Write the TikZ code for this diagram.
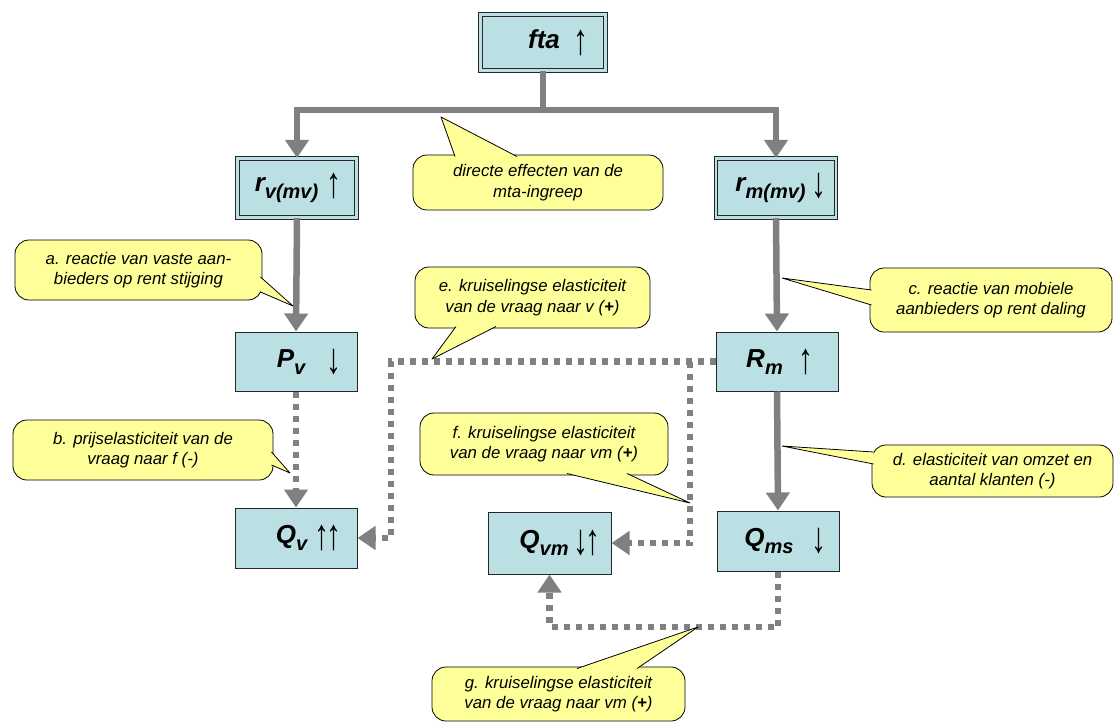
\documentclass[tikz,border=0pt]{standalone}
\usepackage{fontspec}
\setmainfont{Liberation Sans}
\usetikzlibrary{arrows.meta,calc}
\definecolor{boxfill}{HTML}{BBE0E3}
\definecolor{calfill}{HTML}{FFFF99}
\definecolor{linegray}{HTML}{808080}
\newcommand\lsub[1]{\raisebox{-7pt}{\fontsize{20}{20}\selectfont #1}}
\newcommand\upar{\raisebox{-6pt}{\scalebox{1.25}[1.8]{\fontsize{24}{24}\selectfont\mdseries\upshape ↑}}}
\newcommand\dnar{\raisebox{-6pt}{\scalebox{1.25}[1.8]{\fontsize{24}{24}\selectfont\mdseries\upshape ↓}}}
\begin{document}
\begin{tikzpicture}[x=1pt,y=-1pt,
  box/.style={draw=black!85, line width=1pt, fill=boxfill, inner sep=0pt,
    font=\fontsize{26}{26}\selectfont\bfseries\itshape},
  dbox/.style={box, double=boxfill, double distance=2.5pt, line width=1.2pt},
  callbox/.style={draw=black, line width=0.8pt, fill=calfill, rounded corners=14pt,
    inner sep=0pt, align=center, font=\fontsize{16.8}{20.5}\selectfont\itshape},
  wedge/.style={fill=calfill},
  wedgeline/.style={draw=black, line width=0.8pt, line join=round},
  solidline/.style={draw=linegray, line width=6.5pt},
  dotline/.style={draw=linegray, line width=6.5pt, dash pattern=on 6pt off 6pt},
  tip/.style={-{Triangle[width=23pt,length=18pt,fill=linegray,color=linegray]}},
]
\useasboundingbox (0,0) rectangle (1115,723);

% boxes
\node[dbox, minimum width=125pt, minimum height=56pt] (fta) at (543,42.5) {\hspace*{31pt}fta\hspace{14pt}\upar};
\node[dbox, minimum width=119pt, minimum height=59pt] (rv) at (297,188) {\hspace*{2pt}r\lsub{v(mv)}\hspace{8pt}\upar};
\node[dbox, minimum width=120pt, minimum height=59pt] (rm) at (776,188) {\hspace*{10pt}r\lsub{m(mv)}\hspace{6pt}\dnar};
\node[box, minimum width=122pt, minimum height=59pt] (pv) at (296,361.5) {\hspace*{26pt}P\lsub{v}\hspace{21pt}\dnar};
\node[box, minimum width=122pt, minimum height=60pt] (qv) at (296,538) {\hspace*{25pt}Q\lsub{v}\hspace{7pt}\upar\hspace{-3pt}\upar};
\node[box, minimum width=122pt, minimum height=59pt] (rmb) at (777,361.5) {\hspace*{6pt}R\lsub{m}\hspace{16pt}\upar};
\node[box, minimum width=122pt, minimum height=60pt] (qms) at (778,541) {\hspace*{15pt}Q\lsub{ms}\hspace{18pt}\dnar};
\node[box, minimum width=123pt, minimum height=62pt] (qvm) at (549.5,543) {\hspace*{21pt}Q\lsub{vm}\hspace{5pt}\dnar\hspace{-3pt}\upar};

% coordinates
\coordinate (j) at (543,110);
\coordinate (c1) at (391,361.5);
\coordinate (c2) at (690,361.5);
\coordinate (c3) at (0,627);

% solid connectors
\draw[solidline] (fta.south) -- (j);
\draw[solidline, tip] (j) -| (rv.north);
\draw[solidline, tip] (j) -| (rm.north);
\draw[solidline, tip] (rv.south) -- (pv.north);
\draw[solidline, tip] (rm.south) -- (rmb.north);
\draw[solidline, tip] (rmb.south) -- (qms.north);

% dotted connectors
\draw[dotline, tip] (pv.south) -- (qv.north);
\draw[dotline, tip] (rmb.west) -- (c1) |- (qv.east);
\draw[dotline, tip] (c2) |- (qvm.east);
\draw[dotline, tip] (qms.south) -- (qms.south |- c3) -| (qvm.south);

% callouts
\node[callbox, minimum width=250pt, minimum height=55pt] (cdir) at (538,182.5)
  {directe effecten van de\\mta-ingreep};
\fill[wedge] (455,156.5) -- (441,117) -- (517,156.5) -- cycle;
\draw[wedgeline] (455,156.5) -- (441,117) -- (517,156.5);

\node[callbox, minimum width=247pt, minimum height=60pt] (ca) at (138.5,270)
  {a. reactie van vaste aan-\\bieders op rent stijging};
\fill[wedge] (260.5,277) -- (293,306) -- (260.5,292) -- cycle;
\draw[wedgeline] (260.5,277) -- (293,306) -- (260.5,292);

\node[callbox, minimum width=260pt, minimum height=60pt] (cb) at (143,450)
  {b. prijselasticiteit van de\\vraag naar f (-)};
\fill[wedge] (271.5,452) -- (290,473) -- (271.5,465) -- cycle;
\draw[wedgeline] (271.5,452) -- (290,473) -- (271.5,465);

\node[callbox, minimum width=235pt, minimum height=61pt] (ce) at (532.5,297.5)
  {e. kruiselingse elasticiteit\\van de vraag naar v (\textbf{+})};
\fill[wedge] (456,326.5) -- (432,359) -- (496,326.5) -- cycle;
\draw[wedgeline] (456,326.5) -- (432,359) -- (496,326.5);

\node[callbox, minimum width=242pt, minimum height=64pt] (cc) at (991,300)
  {c. reactie van mobiele\\aanbieders op rent daling};
\fill[wedge] (871.5,290) -- (782,278) -- (871.5,305) -- cycle;
\draw[wedgeline] (871.5,290) -- (782,278) -- (871.5,305);

\node[callbox, minimum width=241pt, minimum height=52pt] (cd) at (992.5,471)
  {d. elasticiteit van omzet en\\aantal klanten (-)};
\fill[wedge] (873.5,452) -- (782,446) -- (873.5,464) -- cycle;
\draw[wedgeline] (873.5,452) -- (782,446) -- (873.5,464);

\node[callbox, minimum width=248pt, minimum height=62pt] (cf) at (544,444)
  {f. kruiselingse elasticiteit\\van de vraag naar vm (\textbf{+})};
\fill[wedge] (567,473.5) -- (690,503) -- (627,473.5) -- cycle;
\draw[wedgeline] (567,473.5) -- (690,503) -- (627,473.5);

\node[callbox, minimum width=253pt, minimum height=54pt] (cg) at (558.5,694)
  {g. kruiselingse elasticiteit\\van de vraag naar vm (\textbf{+})};
\fill[wedge] (577,668.5) -- (698,627) -- (637,668.5) -- cycle;
\draw[wedgeline] (577,668.5) -- (698,627) -- (637,668.5);

\end{tikzpicture}
\end{document}
